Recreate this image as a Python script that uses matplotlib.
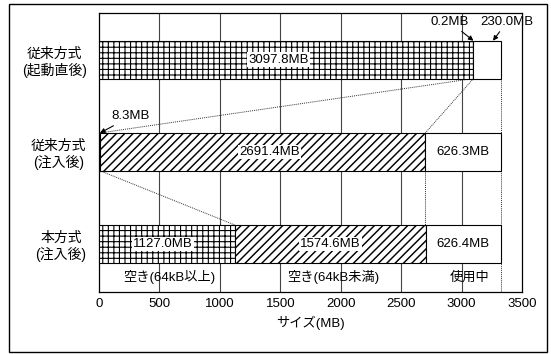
import matplotlib.pyplot as plt
from matplotlib.patches import Rectangle

plt.rcParams['font.family'] = ['Liberation Sans', 'Noto Sans CJK JP']
plt.rcParams['font.size'] = 9.5
plt.rcParams['hatch.linewidth'] = 0.8

# data
rows = ['本方式\n(注入後)', '従来方式\n(注入後)', '従来方式\n(起動直後)']
free_big = [1127.0, 8.3, 3097.8]     # 空き(64kB以上)
free_small = [1574.6, 2691.4, 0.2]   # 空き(64kB未満)
used = [626.4, 626.3, 230.0]         # 使用中
seg_names = ['空き(64kB以上)', '空き(64kB未満)', '使用中']
xticks = [0, 500, 1000, 1500, 2000, 2500, 3000, 3500]

ypos = [0, 1, 2]
h = 0.41

fig = plt.figure(figsize=(5.51, 3.54), dpi=100)
ax = fig.add_axes([0.1797, 0.1751, 0.7677, 0.788])

# outer frame
fig.patches.append(Rectangle((0.0163, 0.0056), 0.9764, 0.983, transform=fig.transFigure,
                             fill=False, edgecolor='black', linewidth=1.0))

for x in xticks[1:-1]:
    ax.axvline(x, color='#444444', linewidth=0.8, zorder=0)

left2 = [a + b for a, b in zip(free_big, free_small)]
total = [a + b for a, b in zip(left2, used)]

ax.barh(ypos, free_big, height=h, color='white', edgecolor='black', hatch='+++',
        linewidth=0.8, zorder=3)
b2 = ax.barh(ypos, free_small, left=free_big, height=h, color='white', edgecolor='black',
             hatch='////', linewidth=0.8, zorder=3)
for p in b2:
    if hasattr(p, 'set_hatch_linewidth'):
        p.set_hatch_linewidth(1.05)
ax.barh(ypos, used, left=left2, height=h, color='white', edgecolor='black',
        linewidth=0.8, zorder=3)

box = dict(boxstyle='square,pad=0.1', facecolor='white', edgecolor='none')
# value labels
ax.text(free_big[2] * 0.48, ypos[2], f'{free_big[2]:.1f}MB', ha='center', va='center',
        bbox=box, zorder=5)
ax.text(free_big[1] + free_small[1] * 0.52, ypos[1], f'{free_small[1]:.1f}MB',
        ha='center', va='center', bbox=box, zorder=5)
ax.text(left2[1] + used[1] / 2, ypos[1], f'{used[1]:.1f}MB', ha='center', va='center', zorder=5)
ax.text(free_big[0] * 0.47, ypos[0], f'{free_big[0]:.1f}MB', ha='center', va='center',
        bbox=box, zorder=5)
ax.text(free_big[0] + free_small[0] / 2, ypos[0], f'{free_small[0]:.1f}MB',
        ha='center', va='center', bbox=box, zorder=5)
ax.text(left2[0] + used[0] / 2, ypos[0], f'{used[0]:.1f}MB', ha='center', va='center', zorder=5)

# segment names under bottom bar
label_y = -0.36
ax.text(free_big[0] / 2 + 15, label_y, seg_names[0], ha='center', va='center', zorder=5)
ax.text(free_big[0] + free_small[0] / 2 + 25, label_y, seg_names[1], ha='center', va='center', zorder=5)
ax.text(left2[0] + used[0] / 2 + 50, label_y, seg_names[2], ha='center', va='center', zorder=5)

# small value annotations
arrow = dict(arrowstyle='-|>', color='black', lw=0.8, mutation_scale=7, shrinkA=1, shrinkB=0)
ax.annotate(f'{free_small[2]:.1f}MB', xy=(left2[2], ypos[2] + h / 2), xytext=(2900, 2.41),
            ha='center', va='center', arrowprops=arrow, annotation_clip=False, zorder=6)
ax.annotate(f'{used[2]:.1f}MB', xy=(3260, ypos[2] + h / 2), xytext=(3375, 2.41),
            ha='center', va='center', arrowprops=arrow, annotation_clip=False, zorder=6)
ax.annotate(f'{free_big[1]:.1f}MB', xy=(free_big[1], ypos[1] + h / 2), xytext=(265, 1.385),
            ha='center', va='center', arrowprops=arrow, annotation_clip=False, zorder=6)

# dotted connectors
dot = dict(color='#333333', linestyle=(0, (1, 1)), linewidth=0.7, zorder=2)
ax.plot([free_big[1], free_big[2]], [ypos[1] + h / 2, ypos[2] - h / 2], **dot)
ax.plot([left2[2], left2[1]], [ypos[2] - h / 2, ypos[1] + h / 2], **dot)
ax.plot([free_big[1], free_big[0]], [ypos[1] - h / 2, ypos[0] + h / 2], **dot)
ax.plot([left2[1], left2[1]], [ypos[1] - h / 2, ypos[0] + h / 2], **dot)
ax.plot([total[2], total[2]], [ypos[2] - h / 2, -0.52], **dot)

ax.set_xlim(0, 3500)
ax.set_ylim(-0.52, 2.505)
ax.set_xticks(xticks)
ax.set_xticklabels([str(x) for x in xticks])
ax.set_yticks(ypos)
ax.set_yticklabels(rows, multialignment='center', fontsize=10)
ax.tick_params(axis='both', length=0)
ax.tick_params(axis='x', pad=4.5)
ax.tick_params(axis='y', pad=9)
ax.set_xlabel('サイズ(MB)', labelpad=4)
for s in ax.spines.values():
    s.set_linewidth(0.9)

fig.savefig('out.png', dpi=100)
